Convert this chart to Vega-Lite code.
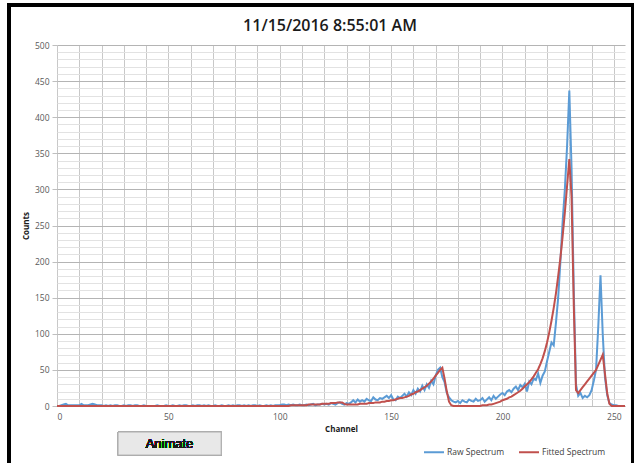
{
  "$schema": "https://vega.github.io/schema/vega-lite/v6.json",
  "autosize": {"type": "none"},
  "width": 568,
  "height": 361,
  "padding": {"left": 57, "top": 45, "right": 9, "bottom": 57},
  "background": "white",
  "title": {
    "text": "11/15/2016 8:55:01 AM",
    "anchor": "middle",
    "frame": "group",
    "offset": -30,
    "dx": -11,
    "font": "Open Sans",
    "fontSize": 16,
    "fontWeight": 600,
    "color": "#1a1a1a"
  },
  "config": {
    "view": {"stroke": null},
    "axis": {
      "labelFont": "Open Sans",
      "labelFontSize": 8.5,
      "labelColor": "#595959",
      "titleFont": "Open Sans",
      "titleFontSize": 8,
      "titleFontWeight": "bold",
      "titleColor": "#1a1a1a",
      "domainColor": "#bfbfbf",
      "tickColor": "#bfbfbf"
    }
  },
  "resolve": {"axis": {"x": "independent", "y": "independent"}},
  "data": {"values": [
    {"c":0,"raw":0,"fit":0},{"c":1,"raw":0,"fit":0},{"c":2,"raw":1,"fit":0},{"c":3,"raw":2,"fit":0},{"c":4,"raw":3,"fit":0},{"c":5,"raw":1,"fit":0},{"c":6,"raw":1,"fit":0},{"c":7,"raw":1,"fit":0},{"c":8,"raw":1,"fit":0},{"c":9,"raw":1,"fit":0},
    {"c":10,"raw":1,"fit":0},{"c":11,"raw":3,"fit":0},{"c":12,"raw":1,"fit":0},{"c":13,"raw":1,"fit":0},{"c":14,"raw":1,"fit":0},{"c":15,"raw":2,"fit":0},{"c":16,"raw":3,"fit":0},{"c":17,"raw":2,"fit":0},{"c":18,"raw":1,"fit":0},{"c":19,"raw":1,"fit":0},
    {"c":20,"raw":1,"fit":0},{"c":21,"raw":0,"fit":0},{"c":22,"raw":1,"fit":0},{"c":23,"raw":0,"fit":0},{"c":24,"raw":1,"fit":0},{"c":25,"raw":0,"fit":0},{"c":26,"raw":1,"fit":0},{"c":27,"raw":1,"fit":0},{"c":28,"raw":0,"fit":0},{"c":29,"raw":0,"fit":0},
    {"c":30,"raw":1,"fit":0},{"c":31,"raw":0,"fit":0},{"c":32,"raw":1,"fit":0},{"c":33,"raw":1,"fit":0},{"c":34,"raw":0,"fit":0},{"c":35,"raw":1,"fit":0},{"c":36,"raw":1,"fit":0},{"c":37,"raw":0,"fit":0},{"c":38,"raw":0,"fit":0},{"c":39,"raw":1,"fit":0},
    {"c":40,"raw":0,"fit":0},{"c":41,"raw":0,"fit":0},{"c":42,"raw":0,"fit":0},{"c":43,"raw":0,"fit":0},{"c":44,"raw":0,"fit":0},{"c":45,"raw":1,"fit":0},{"c":46,"raw":0,"fit":0},{"c":47,"raw":0,"fit":0},{"c":48,"raw":0,"fit":0},{"c":49,"raw":1,"fit":0},
    {"c":50,"raw":0,"fit":0},{"c":51,"raw":0,"fit":0},{"c":52,"raw":1,"fit":0},{"c":53,"raw":0,"fit":0},{"c":54,"raw":0,"fit":0},{"c":55,"raw":1,"fit":0},{"c":56,"raw":0,"fit":0},{"c":57,"raw":1,"fit":0},{"c":58,"raw":1,"fit":0},{"c":59,"raw":0,"fit":0},
    {"c":60,"raw":0,"fit":0},{"c":61,"raw":1,"fit":0},{"c":62,"raw":0,"fit":0},{"c":63,"raw":1,"fit":0},{"c":64,"raw":1,"fit":0},{"c":65,"raw":0,"fit":0},{"c":66,"raw":1,"fit":0},{"c":67,"raw":0,"fit":0},{"c":68,"raw":1,"fit":0},{"c":69,"raw":0,"fit":0},
    {"c":70,"raw":0,"fit":0},{"c":71,"raw":1,"fit":0},{"c":72,"raw":0,"fit":0},{"c":73,"raw":0,"fit":0},{"c":74,"raw":1,"fit":0},{"c":75,"raw":0,"fit":0},{"c":76,"raw":0,"fit":0},{"c":77,"raw":1,"fit":0},{"c":78,"raw":0,"fit":0},{"c":79,"raw":1,"fit":0},
    {"c":80,"raw":0,"fit":0},{"c":81,"raw":1,"fit":0},{"c":82,"raw":1,"fit":0},{"c":83,"raw":0,"fit":0},{"c":84,"raw":1,"fit":0},{"c":85,"raw":0,"fit":0},{"c":86,"raw":1,"fit":0},{"c":87,"raw":0,"fit":0},{"c":88,"raw":1,"fit":0},{"c":89,"raw":1,"fit":0},
    {"c":90,"raw":0,"fit":0},{"c":91,"raw":1,"fit":0},{"c":92,"raw":0,"fit":0},{"c":93,"raw":0,"fit":0},{"c":94,"raw":1,"fit":0},{"c":95,"raw":0,"fit":0},{"c":96,"raw":1,"fit":0},{"c":97,"raw":0,"fit":0},{"c":98,"raw":1,"fit":0},{"c":99,"raw":1,"fit":0},
    {"c":100,"raw":1,"fit":0},{"c":101,"raw":2,"fit":0},{"c":102,"raw":2,"fit":0},{"c":103,"raw":1,"fit":0},{"c":104,"raw":2,"fit":0},{"c":105,"raw":1,"fit":1},{"c":106,"raw":2,"fit":1},{"c":107,"raw":1,"fit":1},{"c":108,"raw":1,"fit":1},{"c":109,"raw":2,"fit":1},
    {"c":110,"raw":1,"fit":1},{"c":111,"raw":1,"fit":1},{"c":112,"raw":2,"fit":1},{"c":113,"raw":1,"fit":2},{"c":114,"raw":2,"fit":2},{"c":115,"raw":3,"fit":2},{"c":116,"raw":1,"fit":2},{"c":117,"raw":2,"fit":2},{"c":118,"raw":2,"fit":2},{"c":119,"raw":3,"fit":3},
    {"c":120,"raw":2,"fit":3},{"c":121,"raw":3,"fit":3},{"c":122,"raw":2,"fit":3},{"c":123,"raw":4,"fit":4},{"c":124,"raw":3,"fit":4},{"c":125,"raw":2,"fit":4},{"c":126,"raw":4,"fit":5},{"c":127,"raw":5,"fit":5},{"c":128,"raw":3,"fit":5},{"c":129,"raw":2,"fit":3},
    {"c":130,"raw":4,"fit":2},{"c":131,"raw":3,"fit":2},{"c":132,"raw":5,"fit":2},{"c":133,"raw":8,"fit":2},{"c":134,"raw":5,"fit":2},{"c":135,"raw":9,"fit":2},{"c":136,"raw":6,"fit":3},{"c":137,"raw":8,"fit":3},{"c":138,"raw":6,"fit":3},{"c":139,"raw":10,"fit":3},
    {"c":140,"raw":8,"fit":4},{"c":141,"raw":7,"fit":4},{"c":142,"raw":12,"fit":4},{"c":143,"raw":9,"fit":5},{"c":144,"raw":8,"fit":5},{"c":145,"raw":11,"fit":5},{"c":146,"raw":10,"fit":6},{"c":147,"raw":12,"fit":6},{"c":148,"raw":14,"fit":7},{"c":149,"raw":11,"fit":7},
    {"c":150,"raw":15,"fit":8},{"c":151,"raw":9,"fit":8},{"c":152,"raw":8,"fit":9},{"c":153,"raw":13,"fit":10},{"c":154,"raw":11,"fit":11},{"c":155,"raw":14,"fit":11},{"c":156,"raw":17,"fit":12},{"c":157,"raw":13,"fit":13},{"c":158,"raw":19,"fit":14},{"c":159,"raw":15,"fit":16},
    {"c":160,"raw":22,"fit":17},{"c":161,"raw":17,"fit":19},{"c":162,"raw":24,"fit":20},{"c":163,"raw":20,"fit":22},{"c":164,"raw":28,"fit":24},{"c":165,"raw":22,"fit":26},{"c":166,"raw":30,"fit":28},{"c":167,"raw":25,"fit":31},{"c":168,"raw":35,"fit":34},{"c":169,"raw":30,"fit":38},
    {"c":170,"raw":42,"fit":42},{"c":171,"raw":50,"fit":46},{"c":172,"raw":53,"fit":50},{"c":173,"raw":40,"fit":53},{"c":174,"raw":33,"fit":38},{"c":175,"raw":18,"fit":20},{"c":176,"raw":12,"fit":6},{"c":177,"raw":8,"fit":1},{"c":178,"raw":6,"fit":0},{"c":179,"raw":5,"fit":0},
    {"c":180,"raw":7,"fit":0},{"c":181,"raw":4,"fit":0},{"c":182,"raw":8,"fit":0},{"c":183,"raw":6,"fit":0},{"c":184,"raw":5,"fit":0},{"c":185,"raw":9,"fit":0},{"c":186,"raw":7,"fit":0},{"c":187,"raw":6,"fit":0},{"c":188,"raw":10,"fit":0},{"c":189,"raw":7,"fit":0},
    {"c":190,"raw":8,"fit":0},{"c":191,"raw":11,"fit":1},{"c":192,"raw":6,"fit":1},{"c":193,"raw":9,"fit":1},{"c":194,"raw":12,"fit":2},{"c":195,"raw":8,"fit":2},{"c":196,"raw":14,"fit":3},{"c":197,"raw":10,"fit":4},{"c":198,"raw":13,"fit":5},{"c":199,"raw":16,"fit":6},
    {"c":200,"raw":18,"fit":8},{"c":201,"raw":15,"fit":9},{"c":202,"raw":20,"fit":10},{"c":203,"raw":22,"fit":12},{"c":204,"raw":19,"fit":13},{"c":205,"raw":24,"fit":15},{"c":206,"raw":27,"fit":17},{"c":207,"raw":22,"fit":19},{"c":208,"raw":29,"fit":21},{"c":209,"raw":26,"fit":24},
    {"c":210,"raw":31,"fit":27},{"c":211,"raw":20,"fit":30},{"c":212,"raw":34,"fit":33},{"c":213,"raw":30,"fit":37},{"c":214,"raw":38,"fit":41},{"c":215,"raw":36,"fit":46},{"c":216,"raw":45,"fit":51},{"c":217,"raw":32,"fit":58},{"c":218,"raw":42,"fit":66},{"c":219,"raw":48,"fit":76},
    {"c":220,"raw":62,"fit":88},{"c":221,"raw":75,"fit":102},{"c":222,"raw":88,"fit":118},{"c":223,"raw":84,"fit":136},{"c":224,"raw":115,"fit":156},{"c":225,"raw":150,"fit":180},{"c":226,"raw":200,"fit":205},{"c":227,"raw":255,"fit":235},{"c":228,"raw":300,"fit":268},{"c":229,"raw":360,"fit":305},
    {"c":230,"raw":437,"fit":342},{"c":231,"raw":330,"fit":290},{"c":232,"raw":160,"fit":140},{"c":233,"raw":30,"fit":22},{"c":234,"raw":14,"fit":18},{"c":235,"raw":18,"fit":22},{"c":236,"raw":11,"fit":26},{"c":237,"raw":14,"fit":30},{"c":238,"raw":12,"fit":34},{"c":239,"raw":15,"fit":38},
    {"c":240,"raw":22,"fit":42},{"c":241,"raw":35,"fit":46},{"c":242,"raw":50,"fit":50},{"c":243,"raw":110,"fit":57},{"c":244,"raw":181,"fit":64},{"c":245,"raw":100,"fit":71},{"c":246,"raw":40,"fit":45},{"c":247,"raw":15,"fit":18},{"c":248,"raw":4,"fit":3},{"c":249,"raw":2,"fit":0},
    {"c":250,"raw":1,"fit":0},{"c":251,"raw":1,"fit":0},{"c":252,"raw":0,"fit":0},{"c":253,"raw":0,"fit":0},{"c":254,"raw":0,"fit":0},{"c":255,"raw":0,"fit":0}
  ]},
  "layer": [
    {
      "transform": [{"fold": ["raw", "fit"], "as": ["series", "value"]}],
      "mark": {"type": "line", "strokeWidth": 2, "interpolate": "linear"},
      "encoding": {
        "x": {
          "field": "c", "type": "quantitative",
          "scale": {"domain": [0, 255], "nice": false, "zero": false},
          "axis": {
            "title": "Channel",
            "orient": "bottom",
            "values": [0,10,20,30,40,50,60,70,80,90,100,110,120,130,140,150,160,170,180,190,200,210,220,230,240,250],
            "labelExpr": "datum.value % 50 === 0 ? datum.label : ''",
            "labelOverlap": false,
            "grid": true,
            "gridColor": "#c8c8c8",
            "ticks": false,
            "labelPadding": 6,
            "titlePadding": 5
          }
        },
        "y": {
          "field": "value", "type": "quantitative",
          "scale": {"domain": [0, 500], "nice": false},
          "axis": {
            "title": "Counts",
            "orient": "left",
            "values": [0,10,20,30,40,50,60,70,80,90,100,110,120,130,140,150,160,170,180,190,200,210,220,230,240,250,260,270,280,290,300,310,320,330,340,350,360,370,380,390,400,410,420,430,440,450,460,470,480,490,500],
            "labelExpr": "datum.value % 50 === 0 ? datum.label : ''",
            "labelOverlap": false,
            "grid": true,
            "gridColor": {"condition": {"test": "datum.value % 50 === 0", "value": "#b4b4b4"}, "value": "#e2e2e2"},
            "tickOpacity": {"condition": {"test": "datum.value % 50 === 0", "value": 1}, "value": 0},
            "tickSize": 5,
            "domain": false,
            "labelPadding": 3,
            "titlePadding": 4
          }
        },
        "color": {
          "field": "series", "type": "nominal",
          "scale": {"domain": ["raw", "fit"], "range": ["#5B9BD5", "#C0504D"]},
          "legend": {
            "title": null,
            "orient": "none",
            "legendX": 366,
            "legendY": 396,
            "direction": "horizontal",
            "symbolType": "stroke",
            "symbolStrokeWidth": 2,
            "symbolSize": 400,
            "labelExpr": "datum.value === 'raw' ? 'Raw Spectrum' : 'Fitted Spectrum'",
            "labelFont": "Open Sans",
            "labelFontSize": 8.5,
            "labelColor": "#404040",
            "columnPadding": 10,
            "labelOffset": 2
          }
        }
      }
    },
    {
      "mark": {"type": "rect", "fill": null, "stroke": "#000000", "strokeWidth": 3, "clip": false},
      "encoding": {
        "x": {"datum": -21.6, "type": "quantitative", "axis": null},
        "x2": {"datum": 258.6},
        "y": {"datum": 555, "type": "quantitative", "axis": null},
        "y2": {"datum": -90}
      }
    },
    {
      "mark": {"type": "rect", "fill": "#e8e8e8", "stroke": "#adadad", "strokeWidth": 1, "clip": false},
      "encoding": {
        "x": {"datum": 27.4, "type": "quantitative", "axis": null},
        "x2": {"datum": 73.7},
        "y": {"datum": -36, "type": "quantitative", "axis": null},
        "y2": {"datum": -68}
      }
    },
    {
      "mark": {"type": "text", "text": "Animate", "font": "Liberation Sans", "fontSize": 13, "fill": "#1a1a1a", "stroke": null, "clip": false, "baseline": "middle"},
      "encoding": {
        "x": {"datum": 50.5, "type": "quantitative", "axis": null},
        "y": {"datum": -52, "type": "quantitative", "axis": null}
      }
    }
  ]
}
